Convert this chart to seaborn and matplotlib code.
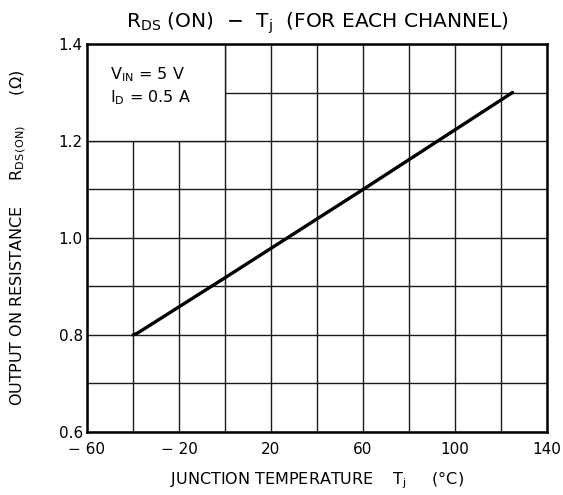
import matplotlib
matplotlib.use("Agg")
import matplotlib.pyplot as plt
import seaborn as sns
import pandas as pd
from matplotlib.patches import Rectangle

# data
temp_c = [-40, -38, 0, 60, 125]
rds_on = [0.800, 0.804, 0.918, 1.100, 1.300]

x_major = [-60, -20, 20, 60, 100, 140]
x_major_labels = ["\u2212 60", "\u2212 20", "20", "60", "100", "140"]
x_grid = [-60, -40, -20, 0, 20, 40, 60, 80, 100, 120, 140]
y_major = [0.6, 0.8, 1.0, 1.2, 1.4]
y_major_labels = ["0.6", "0.8", "1.0", "1.2", "1.4"]
y_grid = [0.6, 0.7, 0.8, 0.9, 1.0, 1.1, 1.2, 1.3, 1.4]

sns.set_theme(style="white")
plt.rcParams['font.family'] = ['DejaVu Sans']
plt.rcParams['mathtext.default'] = 'regular'
plt.rcParams['text.color'] = 'black'
plt.rcParams['axes.labelcolor'] = 'black'

fig = plt.figure(figsize=(5.63, 4.95), dpi=100)
ax = fig.add_axes([0.1545, 0.1273, 0.9716 - 0.1545, 0.9111 - 0.1273])

df = pd.DataFrame({"Tj": temp_c, "Rds": rds_on})
sns.lineplot(data=df, x="Tj", y="Rds", ax=ax, color="black", linewidth=2.4,
             zorder=5, sort=False)

ax.set_xlim(-60, 140)
ax.set_ylim(0.6, 1.4)

for xv in x_grid:
    ax.axvline(xv, color="#1a1a1a", linewidth=1.0, zorder=1)
for yv in y_grid:
    ax.axhline(yv, color="#1a1a1a", linewidth=1.0, zorder=1)

# white box behind the condition text (covers grid from -60..0, 1.2..1.4)
ax.add_patch(Rectangle((-60, 1.2), 60, 0.2, facecolor="white", edgecolor="none",
                       zorder=2))
ax.plot([0, 0], [1.2, 1.4], color="#1a1a1a", linewidth=1.0, zorder=3)
ax.plot([-60, 0], [1.2, 1.2], color="#1a1a1a", linewidth=1.0, zorder=3)

ax.text(-50, 1.337, "V$_{IN}$ = 5 V", fontsize=11.5, zorder=4, va="center")
ax.text(-50, 1.29, "I$_{D}$ = 0.5 A", fontsize=11.5, zorder=4, va="center")

ax.set_xticks(x_major)
ax.set_xticklabels(x_major_labels, fontsize=11)
ax.set_yticks(y_major)
ax.set_yticklabels(y_major_labels, fontsize=11)
ax.tick_params(axis="x", length=0, pad=7, colors="black")
ax.tick_params(axis="y", length=0, pad=3, colors="black")

for s in ax.spines.values():
    s.set_visible(True)
    s.set_color("black")
    s.set_linewidth(1.8)
    s.set_zorder(6)

ax.set_xlabel("JUNCTION TEMPERATURE    T$_{j}$     (\u00b0C)", fontsize=11.5,
              labelpad=9)
ax.set_ylabel("OUTPUT ON RESISTANCE     R$_{DS\\,(ON)}$      (\u03a9)", fontsize=11.5,
              labelpad=22)
ax.set_title("R$_{DS}$ (ON)  \u2212  T$_{j}$  (FOR EACH CHANNEL)", fontsize=14.5,
             pad=12)

fig.savefig("out.png", dpi=100)
